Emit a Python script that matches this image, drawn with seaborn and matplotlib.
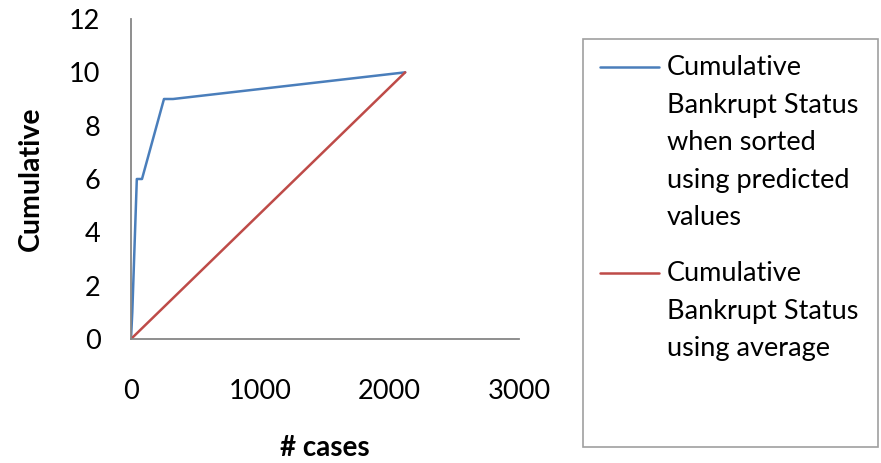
import matplotlib
matplotlib.use("Agg")
import matplotlib.pyplot as plt
import seaborn as sns
import pandas as pd
from matplotlib.lines import Line2D
from matplotlib.patches import Rectangle

# Cumulative bankrupt count against number of cases
cases_sorted = [0, 10, 45, 85, 255, 325, 2120]
cum_sorted = [0, 1, 6, 6, 9, 9, 10]
cases_avg = [0, 2120]
cum_avg = [0, 10]

label_sorted = "Cumulative\nBankrupt Status\nwhen sorted\nusing predicted\nvalues"
label_avg = "Cumulative\nBankrupt Status\nusing average"
x_ticks = [0, 1000, 2000, 3000]
y_ticks = [0, 2, 4, 6, 8, 10, 12]

BLUE = "#4A7EBB"
RED = "#BE4B48"
GREY = "#868686"

sns.set_theme(style="white")
plt.rcParams["font.family"] = ["Lato", "DejaVu Sans"]
plt.rcParams["text.color"] = "black"
plt.rcParams["axes.labelcolor"] = "black"

W, H = 881, 463
fig = plt.figure(figsize=(W / 100, H / 100), dpi=100)
ax = fig.add_axes([131 / W, (H - 339) / H, (519 - 131) / W, 320 / H])

df_sorted = pd.DataFrame({"cases": cases_sorted, "cum": cum_sorted})
df_avg = pd.DataFrame({"cases": cases_avg, "cum": cum_avg})
sns.lineplot(data=df_sorted, x="cases", y="cum", ax=ax, color=BLUE,
             linewidth=1.8, sort=False, estimator=None)
sns.lineplot(data=df_avg, x="cases", y="cum", ax=ax, color=RED,
             linewidth=1.8, sort=False, estimator=None)

ax.set_xlim(0, 3000)
ax.set_ylim(0, 12)
ax.set_xticks(x_ticks)
ax.set_yticks(y_ticks)
ax.set_xticklabels([str(v) for v in x_ticks])
ax.set_yticklabels([str(v) for v in y_ticks])

for side in ("top", "right"):
    ax.spines[side].set_visible(False)
for side in ("left", "bottom"):
    ax.spines[side].set_color(GREY)
    ax.spines[side].set_linewidth(1.3)
ax.tick_params(axis="both", which="major", direction="out", length=7,
               width=1.3, color=GREY, labelsize=19.5, labelcolor="black")
ax.tick_params(axis="y", pad=15)
ax.tick_params(axis="x", pad=22)
ax.grid(False)

ax.set_xlabel("# cases", fontsize=20, fontweight="bold", labelpad=22)
ax.set_ylabel("Cumulative", fontsize=20.5, fontweight="bold", labelpad=18)

# Legend panel
fig.patches.append(Rectangle((583 / W, (H - 447) / H), (878 - 583) / W, (447 - 39) / H,
                             transform=fig.transFigure, facecolor="white",
                             edgecolor="#A0A0A0", linewidth=1.2))
for y_line, color, text in ((67, BLUE, label_sorted), (273, RED, label_avg)):
    fig.lines.append(Line2D([600 / W, 659 / W], [(H - y_line) / H] * 2,
                            transform=fig.transFigure, color=color, linewidth=1.8))
    fig.text(667 / W, (H - y_line + 12) / H, text, fontsize=19.5, va="top",
             ha="left", linespacing=1.63)

fig.savefig("out.png", dpi=100)
